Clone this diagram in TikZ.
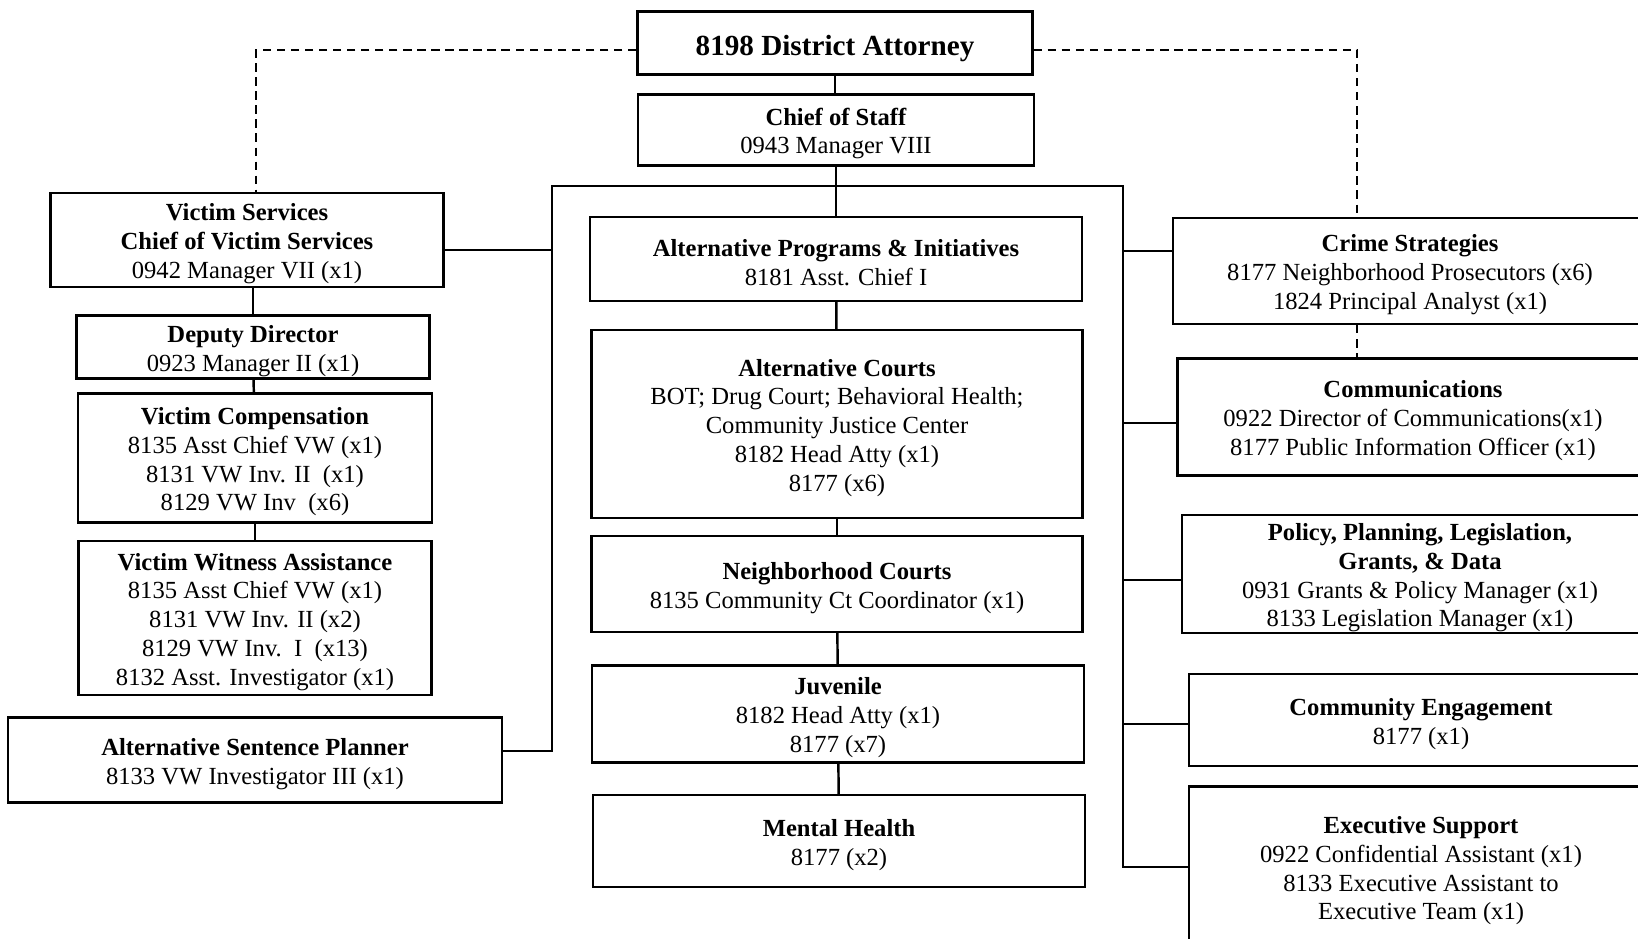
\documentclass[tikz,border=0pt]{standalone}
\usepackage{fontspec}
\setmainfont{Liberation Serif}
\newcommand{\lineup}{\rule{0pt}{7pt}}
\begin{document}
\begin{tikzpicture}[
	unit/.style={draw, line width=0.6pt, align=center, inner sep=0pt, font=\fontsize{7}{8.17}\selectfont},
	link/.style={line width=0.7pt},
	dashlink/.style={line width=0.7pt, dash pattern=on 2.4pt off 1.6pt}]
				\useasboundingbox (0,0) rectangle (16.38,-9.39);
				\node[unit, minimum width=3.95cm, minimum height=0.63cm, font=\fontsize{8.3}{9.7}\selectfont\bfseries] (da) at (8.35,-0.43) {\rule{0pt}{8.7pt}8198 District Attorney};
				\node[unit, minimum width=3.96cm, minimum height=0.71cm] (cos) at (8.36,-1.30) {\lineup\textbf{Chief of Staff}\\0943 Manager VIII};
				\node[unit, minimum width=3.93cm, minimum height=0.94cm] (vs) at (2.47,-2.40) {\lineup\textbf{Victim Services}\\\textbf{Chief of Victim Services}\\0942 Manager VII (x1)};
				\node[unit, minimum width=3.53cm, minimum height=0.63cm] (dd) at (2.53,-3.47) {\lineup\textbf{Deputy Director}\\0923 Manager II (x1)};
				\node[unit, minimum width=3.54cm, minimum height=1.29cm] (vc) at (2.55,-4.58) {\lineup\textbf{Victim Compensation}\\8135 Asst Chief VW (x1)\\8131 VW Inv. II\ \ (x1)\\8129 VW Inv\ \ (x6)};
				\node[unit, minimum width=3.53cm, minimum height=1.54cm] (vwa) at (2.55,-6.18) {\lineup\textbf{Victim Witness Assistance}\\8135 Asst Chief VW (x1)\\8131 VW Inv. II (x2)\\8129 VW Inv.\ \ I\ \ (x13)\\8132 Asst. Investigator (x1)};
				\node[unit, minimum width=4.94cm, minimum height=0.85cm] (asp) at (2.55,-7.60) {\lineup\textbf{Alternative Sentence Planner}\\8133 VW Investigator III (x1)};
				\node[unit, minimum width=4.92cm, minimum height=0.84cm] (apis) at (8.36,-2.59) {\lineup\textbf{Alternative Programs \& Initiatives}\\8181 Asst. Chief I};
				\node[unit, minimum width=4.91cm, minimum height=1.88cm] (ac) at (8.37,-4.24) {\lineup\textbf{Alternative Courts}\\BOT; Drug Court; Behavioral Health;\\Community Justice Center\\8182 Head Atty (x1)\\8177 (x6)};
				\node[unit, minimum width=4.91cm, minimum height=0.96cm] (nc) at (8.37,-5.84) {\lineup\textbf{Neighborhood Courts}\\8135 Community Ct Coordinator (x1)};
				\node[unit, minimum width=4.92cm, minimum height=0.97cm] (juv) at (8.38,-7.14) {\lineup\textbf{Juvenile}\\8182 Head Atty (x1)\\8177 (x7)};
				\node[unit, minimum width=4.92cm, minimum height=0.92cm] (mh) at (8.39,-8.41) {\lineup\textbf{Mental Health}\\8177 (x2)};
				\node[unit, minimum width=4.74cm, minimum height=1.06cm] (cs) at (14.10,-2.71) {\lineup\textbf{Crime Strategies}\\8177 Neighborhood Prosecutors (x6)\\1824 Principal Analyst (x1)};
				\node[unit, minimum width=4.71cm, minimum height=1.17cm] (comm) at (14.13,-4.17) {\lineup\textbf{Communications}\\0922 Director of Communications(x1)\\8177 Public Information Officer (x1)};
				\node[unit, minimum width=4.76cm, minimum height=1.18cm] (ppl) at (14.20,-5.74) {\lineup\textbf{Policy, Planning, Legislation,}\\\textbf{Grants, \& Data}\\0931 Grants \& Policy Manager (x1)\\8133 Legislation Manager (x1)};
				\node[unit, minimum width=4.64cm, minimum height=0.92cm] (ce) at (14.21,-7.20) {\lineup\textbf{Community Engagement}\\8177 (x1)};
				\node[unit, minimum width=4.64cm, minimum height=1.61cm] (es) at (14.21,-8.67) {\lineup\textbf{Executive Support}\\0922 Confidential Assistant (x1)\\8133 Executive Assistant to\\Executive Team (x1)};
				\coordinate (fl) at (5.52,-1.86);
				\coordinate (fr) at (11.23,-1.86);
				\coordinate (dl) at (2.56,-0.50);
				\coordinate (dr) at (13.57,-0.50);
				\coordinate (vsl) at ([yshift=-0.10cm]vs.east);
				\coordinate (aspl) at ([yshift=0.09cm]asp.east);
				\coordinate (csl) at ([yshift=0.20cm]cs.west);
				\coordinate (comml) at ([yshift=-0.06cm]comm.west);
				\coordinate (ppll) at ([yshift=-0.06cm]ppl.west);
				\coordinate (cel) at ([yshift=-0.04cm]ce.west);
				\draw[link] (da.south) -- (da.south |- cos.north);
				\draw[link] (cos.south) -- (apis.north);
				\draw[link] (apis) -- (ac);
				\draw[link] (ac) -- (nc);
				\draw[link] (nc) -- (juv);
				\draw[link] (juv) -- (mh);
				\draw[link] (vs.south -| dd.north) -- (dd.north);
				\draw[link] (dd) -- (vc);
				\draw[link] (vc) -- (vwa);
				\draw[link] (aspl) -| (fl) -- (fr) |- (es.west);
				\draw[link] (vsl) -- (vsl -| fl);
				\draw[link] (fr |- csl) -- (csl);
				\draw[link] (fr |- comml) -- (comml);
				\draw[link] (fr |- ppll) -- (ppll);
				\draw[link] (fr |- cel) -- (cel);
				\draw[dashlink] (da.west |- dl) -- (dl) -- (dl |- vs.north);
				\draw[dashlink] (da.east |- dr) -- (dr) -- (dr |- cs.north);
				\draw[dashlink] (dr |- cs.south) -- (dr |- comm.north);
			\end{tikzpicture}
\end{document}
